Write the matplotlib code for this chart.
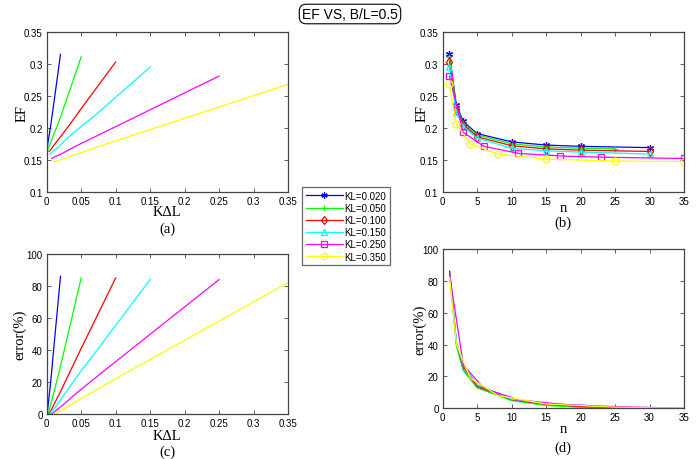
import matplotlib
matplotlib.use("Agg")
import matplotlib.pyplot as plt
import numpy as np

# ---- data ----
kl_values = [0.020, 0.050, 0.100, 0.150, 0.250, 0.350]
labels = ["KL=0.020", "KL=0.050", "KL=0.100", "KL=0.150", "KL=0.250", "KL=0.350"]

n_blue = [1, 2, 3, 5, 10, 15, 20, 30]
ef_blue = [0.315, 0.236, 0.210, 0.191, 0.178, 0.173, 0.171, 0.169]
err_blue = [86, 40, 24, 13, 5.3, 2.4, 1.2, 0]

n_green = [1, 2, 3, 5, 10, 15, 20, 25]
ef_green = [0.311, 0.232, 0.207, 0.189, 0.175, 0.170, 0.168, 0.167]
err_green = [85, 39, 24, 13, 4.8, 1.8, 0.6, 0]

n_red = [1, 2, 3, 5, 10, 15, 20, 30]
ef_red = [0.303, 0.230, 0.205, 0.186, 0.172, 0.167, 0.165, 0.163]
err_red = [85, 41, 26, 14, 5.5, 2.5, 1.2, 0]

n_cyan = [1, 2, 3, 5, 10, 15, 20, 30]
ef_cyan = [0.295, 0.224, 0.202, 0.184, 0.168, 0.164, 0.162, 0.159]
err_cyan = [84, 41, 27, 15, 5.7, 3.0, 1.9, 0]

n_mag = [1, 3, 6, 11, 17, 23, 35]
ef_mag = [0.281, 0.193, 0.171, 0.160, 0.156, 0.154, 0.152]
err_mag = [84, 27, 12.5, 5.3, 2.6, 1.3, 0]

n_yel = [1, 2, 4, 8, 15, 25, 35]
ef_yel = [0.268, 0.206, 0.175, 0.159, 0.151, 0.148, 0.147]
err_yel = [82, 40, 19, 8, 2.7, 0.7, 0]

series_n = [n_blue, n_green, n_red, n_cyan, n_mag, n_yel]
series_ef = [ef_blue, ef_green, ef_red, ef_cyan, ef_mag, ef_yel]
series_err = [err_blue, err_green, err_red, err_cyan, err_mag, err_yel]

colors = ["#0000ff", "#00ff00", "#ff0000", "#00ffff", "#ff00ff", "#ffff00"]
markers = [(6, 2, 0), "+", "d", "^", "s", "o"]

kdl_ticks = [0, 0.05, 0.1, 0.15, 0.2, 0.25, 0.3, 0.35]
kdl_ticklabels = ["0", "0.05", "0.1", "0.15", "0.2", "0.25", "0.3", "0.35"]
n_ticks = [0, 5, 10, 15, 20, 25, 30, 35]
ef_ticks = [0.1, 0.15, 0.2, 0.25, 0.3, 0.35]
ef_ticklabels = ["0.1", "0.15", "0.2", "0.25", "0.3", "0.35"]
err_ticks = [0, 20, 40, 60, 80, 100]

# ---- figure ----
W, H = 699, 460
fig = plt.figure(figsize=(W / 100, H / 100), dpi=100)
fig.patch.set_facecolor("white")

sans = ["Liberation Sans", "DejaVu Sans"]
serif = ["Liberation Serif", "DejaVu Serif"]


def px_axes(l, t, r, b):
    return fig.add_axes([l / W, 1 - b / H, (r - l) / W, (b - t) / H])


def style(ax):
    for s in ax.spines.values():
        s.set_color("#444444")
        s.set_linewidth(0.9)
    ax.tick_params(direction="in", top=True, right=True, length=3, width=0.6,
                   colors="#444444", labelcolor="black", labelsize=7, pad=3)
    for lab in ax.get_xticklabels() + ax.get_yticklabels():
        lab.set_fontfamily(sans)


ax_a = px_axes(46.7, 33, 288, 192.7)
ax_b = px_axes(442.5, 33, 684.3, 192.7)
ax_c = px_axes(46.7, 255, 288, 415)
ax_d = px_axes(442.7, 250, 684, 409.3)

lw = 0.9
for kl, ns, efs, errs, c, m, lab in zip(kl_values, series_n, series_ef, series_err,
                                         colors, markers, labels):
    x = kl / np.array(ns, dtype=float)
    ax_a.plot(x, efs, color=c, lw=lw)
    ax_c.plot(x, errs, color=c, lw=lw)
    ax_b.plot(ns, efs, color=c, lw=lw, marker=m, markersize=5,
              markerfacecolor="none", markeredgecolor=c, markeredgewidth=0.9,
              label=lab)
    ax_d.plot(ns, errs, color=c, lw=lw)

for ax in (ax_a, ax_c):
    ax.set_xlim(0, 0.35)
    ax.set_xticks(kdl_ticks)
    ax.set_xticklabels(kdl_ticklabels)
for ax in (ax_b, ax_d):
    ax.set_xlim(0, 35)
    ax.set_xticks(n_ticks)
for ax in (ax_a, ax_b):
    ax.set_ylim(0.1, 0.35)
    ax.set_yticks(ef_ticks)
    ax.set_yticklabels(ef_ticklabels)
for ax in (ax_c, ax_d):
    ax.set_ylim(0, 100)
    ax.set_yticks(err_ticks)

for ax in (ax_a, ax_b, ax_c, ax_d):
    style(ax)


def ftext(x, y, s, **kw):
    fig.text(x / W, 1 - y / H, s, **kw)


lab_kw = dict(family=serif, fontsize=10.5, ha="center", va="center")
ftext(167, 213, "KΔL", **lab_kw)
ftext(563, 208, "n", **lab_kw)
ftext(167, 437, "KΔL", **lab_kw)
ftext(563, 430, "n", **lab_kw)
ftext(22, 113, "EF", rotation=90, **lab_kw)
ftext(422, 113, "EF", rotation=90, **lab_kw)
ftext(20, 335, "error(%)", rotation=90, **lab_kw)
ftext(420, 330, "error(%)", rotation=90, **lab_kw)
ftext(167, 229, "(a)", **lab_kw)
ftext(563, 223, "(b)", **lab_kw)
ftext(167, 452, "(c)", **lab_kw)
ftext(563, 448, "(d)", **lab_kw)

ftext(350, 15, "EF VS, B/L=0.5", family=sans, fontsize=10, ha="center", va="center",
      bbox=dict(boxstyle="round,pad=0.2,rounding_size=0.5", fc="white", ec="black", lw=0.8))

handles, hlabels = ax_b.get_legend_handles_labels()
leg = fig.legend(handles, hlabels, loc="upper left",
                 bbox_to_anchor=(301.7 / W, 1 - 188 / H),
                 prop=dict(family=sans, size=7), frameon=True, fancybox=False,
                 handlelength=3.8, handletextpad=0.2, labelspacing=0.22,
                 borderpad=0.4, borderaxespad=0.0, markerscale=0.9)
leg.get_frame().set_edgecolor("#444444")
leg.get_frame().set_linewidth(0.9)

fig.savefig("out.png", dpi=100, facecolor="white")
